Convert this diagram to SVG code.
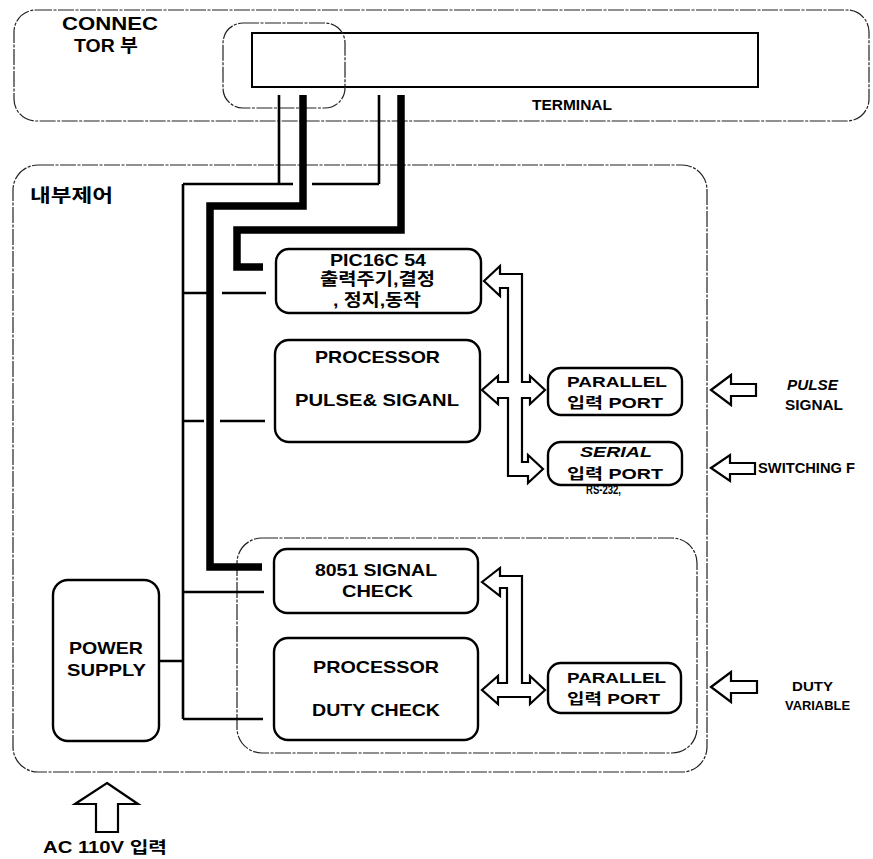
<svg xmlns="http://www.w3.org/2000/svg" width="873" height="859" viewBox="0 0 873 859">
<style>
.cont{fill:none;stroke:#222;stroke-width:1.2;stroke-dasharray:16 1.5 3 1.5}
.box{fill:#fff;stroke:#000;stroke-width:2.4}
.thin{fill:none;stroke:#000;stroke-width:2.6}
.thick{fill:none;stroke:#000;stroke-width:7.5}
.barrow{fill:#fff;stroke:#000;stroke-width:2.2;stroke-linejoin:miter}
text{font-family:"Liberation Sans","Noto Sans CJK KR",sans-serif;font-weight:bold;fill:#000}
.b17{font-size:17px}
.b15{font-size:15px}
.b14{font-size:14px}
</style>
<rect width="873" height="859" fill="#fff"/>

<g id="connector-area">
<rect class="cont" x="14" y="10" width="855" height="111" rx="22"/>
<text x="62" y="30" font-size="18" textLength="96" lengthAdjust="spacingAndGlyphs">CONNEC</text>
<text x="74" y="52" font-size="18" textLength="64" lengthAdjust="spacingAndGlyphs">TOR 부</text>
</g>
<g id="terminal">
<rect x="252" y="33" width="506" height="54" fill="none" stroke="#000" stroke-width="2"/>
<rect class="cont" x="223" y="23" width="122" height="85" rx="20"/>
<text x="532" y="110" font-size="15" textLength="80" lengthAdjust="spacingAndGlyphs">TERMINAL</text>
</g>

<g id="internal-control">
<rect class="cont" x="13" y="165" width="694" height="607" rx="25"/>
<text x="30" y="202" font-size="18" textLength="83" lengthAdjust="spacingAndGlyphs">내부제어</text>
</g>
<g id="check-section">
<rect class="cont" x="237" y="538" width="460" height="215" rx="25"/>
</g>

<g id="connectors">
<path class="thin" d="M279 95V184M379 95V184M183 184H293M312 184H379M183 184V719"/>
<path class="thin" d="M183 293H207M222 293H266M183 421H204M220 421H265M183 592H264M183 719H263M160 661H183"/>
<path class="thick" d="M303 95V206H210V567H262"/>
<path class="thick" d="M401 95V230H237V267H263"/>
</g>

<g id="pic16c54">
<rect class="box" x="276" y="249" width="205" height="64" rx="13"/>
<text class="b17" x="330" y="266" textLength="96" lengthAdjust="spacingAndGlyphs">PIC16C 54</text>
<text class="b17" x="320" y="285" textLength="115" lengthAdjust="spacingAndGlyphs">출력주기,결정</text>
<text class="b17" x="333" y="306" textLength="88" lengthAdjust="spacingAndGlyphs">, 정지,동작</text>
</g>
<g id="processor-pulse">
<rect class="box" x="275" y="340" width="205" height="102" rx="14"/>
<text class="b17" x="315" y="363" textLength="125" lengthAdjust="spacingAndGlyphs">PROCESSOR</text>
<text class="b17" x="295" y="406" textLength="164" lengthAdjust="spacingAndGlyphs">PULSE&amp;  SIGANL</text>
</g>
<g id="signal-check">
<rect class="box" x="274" y="549" width="204" height="64" rx="13"/>
<text class="b17" x="315" y="576" textLength="122" lengthAdjust="spacingAndGlyphs">8051 SIGNAL</text>
<text class="b17" x="342" y="597" textLength="71" lengthAdjust="spacingAndGlyphs">CHECK</text>
</g>
<g id="processor-duty">
<rect class="box" x="274" y="638" width="204" height="102" rx="14"/>
<text class="b17" x="313" y="673" textLength="126" lengthAdjust="spacingAndGlyphs">PROCESSOR</text>
<text class="b17" x="312" y="716" textLength="128" lengthAdjust="spacingAndGlyphs">DUTY CHECK</text>
</g>
<g id="power-supply">
<rect class="box" x="53" y="580" width="106" height="161" rx="15"/>
<text class="b17" x="69" y="654" textLength="74" lengthAdjust="spacingAndGlyphs">POWER</text>
<text class="b17" x="67" y="676" textLength="79" lengthAdjust="spacingAndGlyphs">SUPPLY</text>
</g>
<g id="parallel-port-1">
<rect class="box" x="548" y="368" width="134" height="47" rx="13"/>
<text class="b15" x="567" y="387" textLength="100" lengthAdjust="spacingAndGlyphs">PARALLEL</text>
<text class="b15" x="567" y="408" textLength="96" lengthAdjust="spacingAndGlyphs">입력 PORT</text>
</g>
<g id="serial-port">
<rect class="box" x="548" y="442" width="134" height="43" rx="13"/>
<text class="b15" x="580" y="457" font-style="italic" textLength="72" lengthAdjust="spacingAndGlyphs">SERIAL</text>
<text class="b15" x="567" y="479" textLength="96" lengthAdjust="spacingAndGlyphs">입력 PORT</text>
<text x="586" y="494" font-size="12" textLength="35" lengthAdjust="spacingAndGlyphs">RS-232,</text>
</g>
<g id="parallel-port-2">
<rect class="box" x="548" y="663" width="133" height="50" rx="13"/>
<text class="b15" x="567" y="683" textLength="99" lengthAdjust="spacingAndGlyphs">PARALLEL</text>
<text class="b15" x="567" y="704" textLength="93" lengthAdjust="spacingAndGlyphs">입력 PORT</text>
</g>

<g id="bus-arrows">
<path class="barrow" d="M484 281L500 266V274H522V382H530V376L545 390L530 404V398H522V462H528V455L543 469L528 483V476H508V398H498V404L482 390L498 376V382H508V288H500V296Z"/>
<path class="barrow" d="M482 582L500 568V576H522V683H530V676L545 690L530 704V697H498V704L482 690L498 676V683H507V588H500V596Z"/>
</g>

<g id="input-pulse">
<path class="barrow" d="M711 390L731 375V384H756V396H731V405Z"/>
<text class="b14" x="787" y="390" font-style="italic" textLength="51" lengthAdjust="spacingAndGlyphs">PULSE</text>
<text class="b14" x="785" y="410" textLength="58" lengthAdjust="spacingAndGlyphs">SIGNAL</text>
</g>
<g id="input-switching">
<path class="barrow" d="M711 468L730 455V463H755V474H730V481Z"/>
<text class="b14" x="758" y="473" textLength="97" lengthAdjust="spacingAndGlyphs">SWITCHING F</text>
</g>
<g id="input-duty">
<path class="barrow" d="M711 687L731 672V681H757V693H731V702Z"/>
<text x="792" y="691" font-size="13" textLength="41" lengthAdjust="spacingAndGlyphs">DUTY</text>
<text x="785" y="710" font-size="13" textLength="65" lengthAdjust="spacingAndGlyphs">VARIABLE</text>
</g>
<g id="input-ac">
<path class="barrow" d="M107 783L138 804H118V832H96V804H75Z"/>
<text x="43" y="853" font-size="16" textLength="124" lengthAdjust="spacingAndGlyphs">AC 110V  입력</text>
</g>
</svg>
